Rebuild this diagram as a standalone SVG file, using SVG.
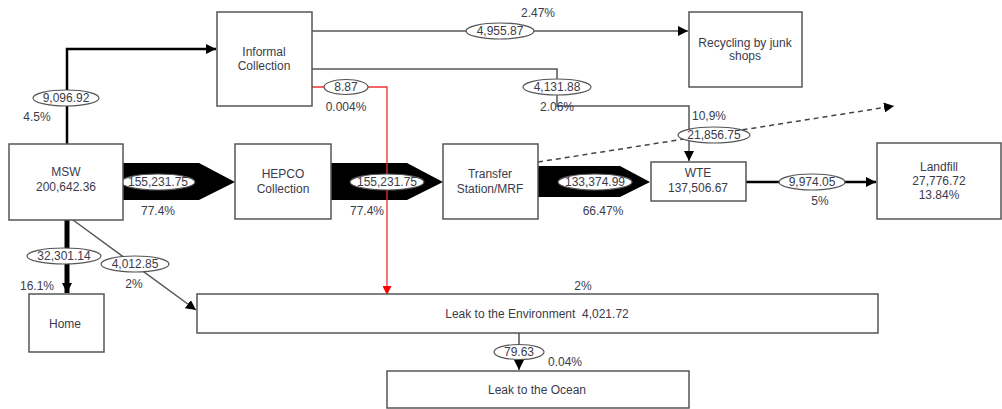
<svg xmlns="http://www.w3.org/2000/svg" width="1002" height="409" viewBox="0 0 1002 409">
<defs>
<style>
text{font-family:"Liberation Sans",Arial,sans-serif;font-size:12px;fill:#3b3b4b;text-anchor:middle}
.box{fill:#fff;stroke:#555;stroke-width:1.5}
.lbl{fill:#fff;stroke:#555;stroke-width:1.2}
.ln{fill:none;stroke:#555;stroke-width:1.5}
.bk{fill:none;stroke:#000;stroke-width:2.5}
.red{fill:none;stroke:#f03030;stroke-width:1.3}
.dash{fill:none;stroke:#444;stroke-width:1.5;stroke-dasharray:5,4}
.big{fill:#000}
</style>
<marker id="ah" viewBox="0 0 10 10" refX="10" refY="5" markerWidth="10" markerHeight="10" markerUnits="userSpaceOnUse" orient="auto"><path d="M0,0L10,5L0,10z" fill="#000"/></marker>
<marker id="ahr" viewBox="0 0 10 10" refX="10" refY="5" markerWidth="9" markerHeight="9" markerUnits="userSpaceOnUse" orient="auto"><path d="M0,0L10,5L0,10z" fill="#f00"/></marker>
</defs>
<rect width="1002" height="409" fill="#fff"/>
<g id="connectors">
<polygon class="big" points="123,163 199,163 235,182 199,200 123,200"/>
<polygon class="big" points="331,163 407,163 443,182 407,200 331,200"/>
<polygon class="big" points="538,166 620,166 650,182 620,197 538,197"/>
<path class="bk" d="M67,144V49H216" marker-end="url(#ah)"/>
<path d="M67,220V293" fill="none" stroke="#000" stroke-width="5" marker-end="url(#ah)"/>
<path class="ln" d="M73,220L196,310" stroke-width="1.2" marker-end="url(#ah)"/>
<path class="ln" d="M312,31H688" marker-end="url(#ah)"/>
<path class="ln" d="M312,69H557V106H689V161" marker-end="url(#ah)"/>
<path class="red" d="M312,87H387V295" marker-end="url(#ahr)"/>
<path class="dash" d="M538,162L894,106" marker-end="url(#ah)"/>
<path class="bk" d="M746,182H876" stroke-width="2" marker-end="url(#ah)"/>
<path class="ln" d="M519,333V370" stroke-width="1.2" marker-end="url(#ah)"/>
<ellipse class="lbl" cx="158" cy="182" rx="37" ry="8"/><text x="158" y="186">155,231.75</text>
<ellipse class="lbl" cx="387" cy="182" rx="37" ry="8"/><text x="387" y="186">155,231.75</text>
<ellipse class="lbl" cx="595" cy="182" rx="37" ry="8"/><text x="595" y="186">133,374.99</text>
<ellipse class="lbl" cx="66" cy="98" rx="33" ry="8"/><text x="66" y="102">9,096.92</text>
<ellipse class="lbl" cx="64" cy="256" rx="37" ry="8"/><text x="64" y="260">32,301.14</text>
<ellipse class="lbl" cx="135" cy="264" rx="34" ry="8"/><text x="135" y="268">4,012.85</text>
<ellipse class="lbl" cx="500" cy="31" rx="34" ry="8"/><text x="500" y="35">4,955.87</text>
<ellipse class="lbl" cx="557" cy="87" rx="34" ry="8"/><text x="557" y="91">4,131.88</text>
<ellipse class="lbl" cx="346" cy="87" rx="22" ry="7.5"/><text x="346" y="91">8.87</text>
<ellipse class="lbl" cx="714" cy="135" rx="36" ry="8"/><text x="714" y="139">21,856.75</text>
<ellipse class="lbl" cx="812" cy="182" rx="33" ry="8"/><text x="812" y="186">9,974.05</text>
<ellipse class="lbl" cx="519" cy="352" rx="25" ry="7.5"/><text x="519" y="356">79.63</text>
<text x="158" y="215">77.4%</text>
<text x="367" y="215">77.4%</text>
<text x="603" y="215">66.47%</text>
<text x="37" y="121">4.5%</text>
<text x="37" y="290">16.1%</text>
<text x="134" y="288">2%</text>
<text x="538" y="17">2.47%</text>
<text x="557" y="111">2.06%</text>
<text x="346" y="111">0.004%</text>
<text x="692" y="120" style="text-anchor:start">10,9%</text>
<text x="820" y="205">5%</text>
<text x="583" y="290">2%</text>
<text x="565" y="366">0.04%</text>
</g>
<g id="informal"><rect class="box" x="217" y="12" width="95" height="94"/><text x="264" y="56">Informal</text><text x="264" y="70">Collection</text></g>
<g id="recycling"><rect class="box" x="689" y="12" width="113" height="75"/><text x="745" y="47">Recycling by junk</text><text x="745" y="60">shops</text></g>
<g id="msw"><rect class="box" x="9" y="144" width="114" height="76"/><text x="66" y="176">MSW</text><text x="66" y="191">200,642.36</text></g>
<g id="hepco"><rect class="box" x="235" y="144" width="96" height="75"/><text x="283" y="178">HEPCO</text><text x="283" y="193">Collection</text></g>
<g id="transfer"><rect class="box" x="443" y="144" width="95" height="75"/><text x="490" y="178">Transfer</text><text x="490" y="193">Station/MRF</text></g>
<g id="wte"><rect class="box" x="651" y="162" width="95" height="39"/><text x="698" y="177">WTE</text><text x="698" y="192">137,506.67</text></g>
<g id="landfill"><rect class="box" x="877" y="143" width="124" height="76"/><text x="939" y="171">Landfill</text><text x="939" y="185">27,776.72</text><text x="939" y="199">13.84%</text></g>
<g id="home"><rect class="box" x="29" y="294" width="75" height="58"/><text x="65" y="328">Home</text></g>
<g id="env"><rect class="box" x="197" y="294" width="681" height="39"/><text x="537" y="318" xml:space="preserve">Leak to the Environment  4,021.72</text></g>
<g id="ocean"><rect class="box" x="387" y="371" width="302" height="37"/><text x="537" y="394">Leak to the Ocean</text></g>
</svg>
